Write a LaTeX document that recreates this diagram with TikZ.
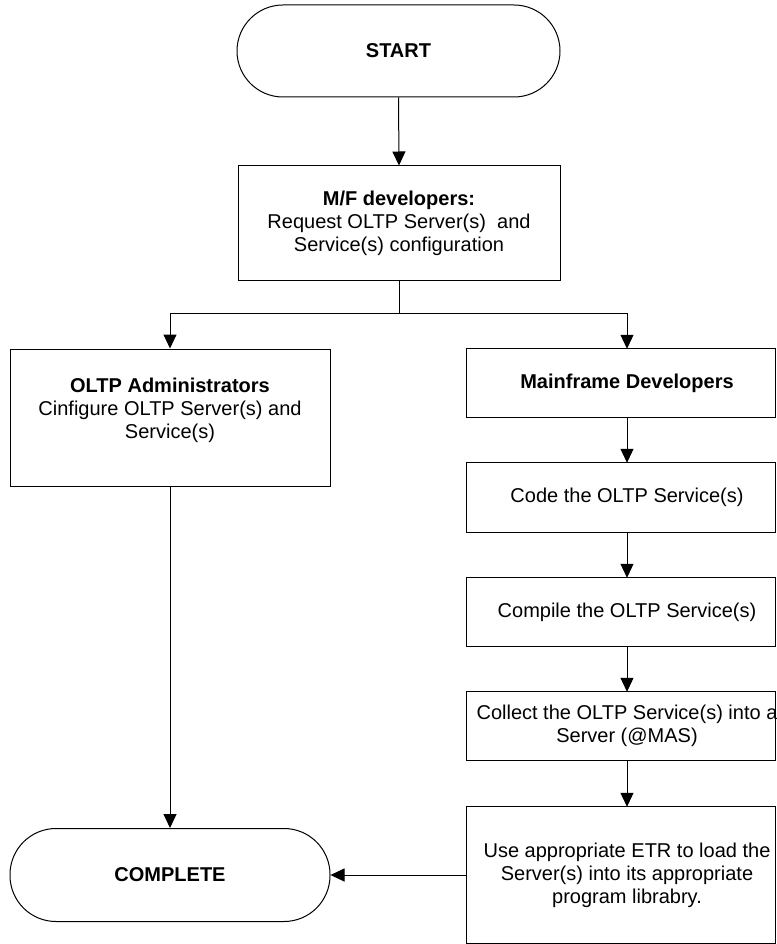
\documentclass[tikz,border=0pt]{standalone}
\usepackage{fontspec}
\setmainfont{Liberation Sans}
\usetikzlibrary{arrows.meta}
\begin{document}
\begin{tikzpicture}[x=1pt,y=-1pt,
  every node/.style={font=\fontsize{20}{23}\selectfont, align=center, inner sep=0pt},
  flowbox/.style={draw, line width=1pt, rectangle},
  termbox/.style={draw, line width=1pt, rectangle, rounded corners=46pt},
  openbox/.style={rectangle, minimum width=320pt},
  conn/.style={line width=1pt, -{Triangle[length=14pt,width=13pt]}},
  plainline/.style={line width=1pt}]
\useasboundingbox (0,0) rectangle (776,944);
\fill[white] (0,0) rectangle (776,944);
\clip (0,0) rectangle (776,944);

% left / centre column
\node[termbox, minimum width=323pt, minimum height=92pt] (start) at (398.5,51) {\textbf{START}};
\node[flowbox, minimum width=322pt, minimum height=114pt] (mf) at (399,223)
  {\textbf{M/F developers:}\\Request OLTP Server(s)\ \ and\\Service(s) configuration};
\node[flowbox, minimum width=320pt, minimum height=137pt] (adm) at (170,417.5) {};
\node (admtxt) at (170,410) {\textbf{OLTP Administrators}\\Cinfigure OLTP Server(s) and\\Service(s)};
\node[termbox, minimum width=320pt, minimum height=93pt] (complete) at (170,875) {\textbf{COMPLETE}};

% right column
\node[openbox, minimum height=68pt] (mdev) at (627,383) {\textbf{Mainframe Developers}};
\node[openbox, minimum height=69pt] (code) at (627,497.5) {Code the OLTP Service(s)};
\node[openbox, minimum height=68pt] (comp) at (627,612) {Compile the OLTP Service(s)};
\node[openbox, minimum height=68pt] (coll) at (627,726) {Collect the OLTP Service(s) into a\\Server (@MAS)};
\node[openbox, minimum height=136pt] (use) at (627,875) {Use appropriate ETR to load the\\Server(s) into its appropriate\\program librabry.};
\foreach \n in {mdev,code,comp,coll,use}
  \draw[plainline] (\n.north west) rectangle ([xshift=-12pt]\n.south east);

% connectors
\coordinate (split) at (399,313);
\draw[conn] (start.south) -- (mf.north);
\draw[plainline] (mf.south) -- (split);
\draw[conn] (split) -| (adm.north);
\draw[conn] (split) -| (mdev.north);
\draw[conn] (adm.south) -- (complete.north);
\draw[conn] (mdev.south) -- (code.north);
\draw[conn] (code.south) -- (comp.north);
\draw[conn] (comp.south) -- (coll.north);
\draw[conn] (coll.south) -- (use.north);
\draw[conn] (use.west) -- (complete.east);
\end{tikzpicture}
\end{document}
